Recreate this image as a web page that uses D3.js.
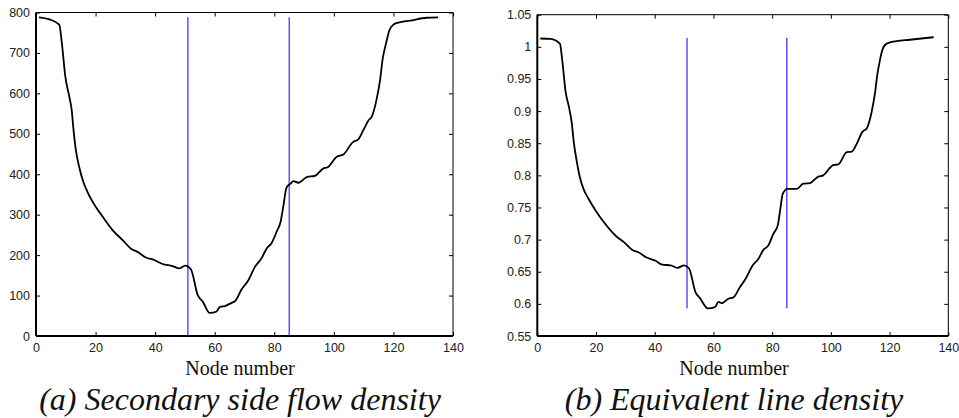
<!DOCTYPE html>
<html>
<head>
<meta charset="utf-8">
<script src="https://cdn.jsdelivr.net/npm/d3@7"></script>
<style>
  body { margin: 0; background: #fff; }
  #wrap { position: relative; width: 959px; height: 418px; }
  #wrap svg { position: absolute; left: 0; top: 0; }
  .lbl { position: absolute; transform: translateX(-50%); white-space: nowrap; color: #111;
         font-family: "Liberation Serif", "Times New Roman", Times, serif; line-height: 1; }
  .xlabel { font-size: 20px; }
  .caption { font-size: 32px; font-style: italic; }
</style>
</head>
<body>
<div id="wrap"></div>
<script>
// Screen size.
const WIDTH = 959;
const HEIGHT = 418;

// Secondary side flow density.
const flowNodes = [1, 4.5, 7.8, 8.7, 9.8, 11.2, 12, 12.5, 13.4, 14.5, 15.9, 17.3, 20.1, 22.4, 25.7, 29.1,
  31.9, 34.1, 36.9, 39.7, 42.5, 45.9, 48.1, 50.1, 52, 54.3, 56, 58.3, 60.5, 61.8, 63.4, 65.7, 66.8,
  69, 71.3, 73.5, 75.7, 77.4, 79.1, 80.8, 82.1, 83, 84.1, 85.5, 86.4, 88.1, 90.9, 93.6, 96.4, 98.1,
  100.9, 103.2, 106.5, 108.2, 109.9, 111.6, 112.7, 114.4, 115.5, 116.4, 117.5, 118.6, 120, 121.6,
  125.6, 131.2, 135];
const flowValues = [788, 783, 770, 723, 644, 591, 558, 517, 459, 418, 381, 356, 319, 295, 262, 237,
  216, 208, 194, 188, 178, 173, 167, 174, 165, 101, 85, 57, 60, 72, 74, 82, 86,
  115, 138, 171, 192, 216, 230, 258, 282, 319, 367, 377, 383, 379, 393, 396, 414, 418,
  443, 449, 480, 486, 509, 533, 542, 587, 632, 686, 723, 755, 770, 775,
  780, 787, 788];

// Equivalent line density.
const lineNodes = [1, 4.5, 7.7, 8.5, 9.65, 10.8, 11.7, 12.5, 13.4, 14.5, 15.9, 17.4, 19.9, 22.7, 26.7,
  29.5, 32.4, 34.6, 36.9, 40.3, 42.6, 45.4, 47.7, 50, 51.7, 53.9, 55.4, 58.1, 60.5, 61.7, 62.8, 65.1,
  66.8, 69, 70.7, 73.4, 75.3, 77, 78.7, 80.4, 81.9, 82.7, 83.6, 85.2, 86.6, 88.4, 90.6, 92.9, 95.7,
  97.4, 100.8, 102.5, 105.4, 107.1, 108.8, 110.8, 112.2, 113.9, 115, 115.8, 116.7, 117.6, 119,
  122.4, 126.9, 135];
const lineValues = [1.013, 1.0125, 1.005, 0.979, 0.930, 0.906, 0.883, 0.849, 0.823, 0.797, 0.777, 0.764,
  0.745, 0.727, 0.706, 0.696, 0.684, 0.680, 0.673, 0.667, 0.661, 0.660, 0.656, 0.660, 0.655, 0.618,
  0.609, 0.593, 0.595, 0.603, 0.601, 0.608, 0.610, 0.626, 0.637, 0.660, 0.670, 0.684, 0.691, 0.709,
  0.722, 0.745, 0.771, 0.779, 0.779, 0.779, 0.787, 0.788, 0.798, 0.800, 0.816, 0.817, 0.836, 0.837,
  0.849, 0.868, 0.873, 0.899, 0.927, 0.956, 0.979, 0.996, 1.005, 1.009, 1.011, 1.015];

// Blue marker lines.
const markerNodes = [51, 85];
const flowMarkerRange = [0, 788];
const lineMarkerRange = [0.593, 1.014];

// Ticks
const xTicks = d3.range(0, 141, 20);
const flowTicks = d3.range(0, 801, 100);
const lineTicks = [0.55, 0.6, 0.65, 0.7, 0.75, 0.8, 0.85, 0.9, 0.95, 1, 1.05];

// Labels
const xLabel = "Node number";
const captions = ["(a) Secondary side flow density", "(b) Equivalent line density"];

const SANS = "Liberation Sans, Arial, sans-serif";

const wrap = d3.select("#wrap");
const svg = wrap.append("svg").attr("width", WIDTH).attr("height", HEIGHT);

function drawPanel(p) {
  const x = d3.scaleLinear().domain([0, 140]).range([p.left, p.right]);
  const y = d3.scaleLinear().domain(p.yDomain).range([p.bottom, p.top]);
  const g = svg.append("g");

  // inward ticks on all four sides
  g.append("g").attr("transform", `translate(0,${p.bottom})`)
    .call(d3.axisBottom(x).tickValues(xTicks).tickSizeInner(-4).tickSizeOuter(0).tickPadding(7));
  g.append("g").attr("transform", `translate(${p.left},0)`)
    .call(d3.axisLeft(y).tickValues(p.yTicks).tickSizeInner(-4).tickSizeOuter(0).tickPadding(6)
      .tickFormat(p.fmt));
  g.append("g").attr("transform", `translate(0,${p.top})`)
    .call(d3.axisTop(x).tickValues(xTicks).tickSizeInner(-4).tickSizeOuter(0).tickFormat(""));
  g.append("g").attr("transform", `translate(${p.right},0)`)
    .call(d3.axisRight(y).tickValues(p.yTicks).tickSizeInner(-4).tickSizeOuter(0).tickFormat(""));
  g.selectAll(".domain").remove();
  g.selectAll(".tick line").attr("stroke", "#000");
  g.selectAll(".tick text").attr("fill", "#222");
  g.selectAll("g").attr("font-family", SANS).attr("font-size", 12.5);

  // box
  g.append("line").attr("x1", p.left).attr("x2", p.right).attr("y1", p.top).attr("y2", p.top)
    .attr("stroke", "#000").attr("stroke-width", 1);
  g.append("line").attr("x1", p.right).attr("x2", p.right).attr("y1", p.top).attr("y2", p.bottom)
    .attr("stroke", "#000").attr("stroke-width", 1);
  g.append("line").attr("x1", p.left).attr("x2", p.right).attr("y1", p.bottom).attr("y2", p.bottom)
    .attr("stroke", "#000").attr("stroke-width", 2);
  g.append("line").attr("x1", p.left).attr("x2", p.left).attr("y1", p.top).attr("y2", p.bottom)
    .attr("stroke", "#000").attr("stroke-width", 2);

  // blue markers
  g.selectAll(".marker").data(markerNodes).enter().append("line")
    .attr("class", "marker")
    .attr("x1", d => x(d)).attr("x2", d => x(d))
    .attr("y1", y(p.markerRange[0])).attr("y2", y(p.markerRange[1]))
    .attr("stroke", "#0000ff").attr("stroke-width", 1);

  // curve
  const pts = p.nodes.map((n, i) => [n, p.values[i]]);
  const line = d3.line().x(d => x(d[0])).y(d => y(d[1])).curve(d3.curveMonotoneX);
  g.append("path").datum(pts).attr("d", line)
    .attr("fill", "none").attr("stroke", "#000").attr("stroke-width", 1.8);

  // serif labels as html text
  wrap.append("div").attr("class", "lbl xlabel")
    .style("left", p.labelX + "px").style("top", "358px").text(xLabel);
  wrap.append("div").attr("class", "lbl caption")
    .style("left", p.labelX + "px").style("top", "383px").text(p.caption);
}

drawPanel({
  left: 36, right: 453, top: 12.5, bottom: 336,
  yDomain: [0, 800], yTicks: flowTicks, fmt: d3.format("d"),
  nodes: flowNodes, values: flowValues, markerRange: flowMarkerRange,
  labelX: 240, caption: captions[0]
});

drawPanel({
  left: 537.3, right: 948.3, top: 14.7, bottom: 336,
  yDomain: [0.55, 1.05], yTicks: lineTicks, fmt: d => String(+d.toFixed(2)),
  nodes: lineNodes, values: lineValues, markerRange: lineMarkerRange,
  labelX: 734, caption: captions[1]
});
</script>
</body>
</html>
